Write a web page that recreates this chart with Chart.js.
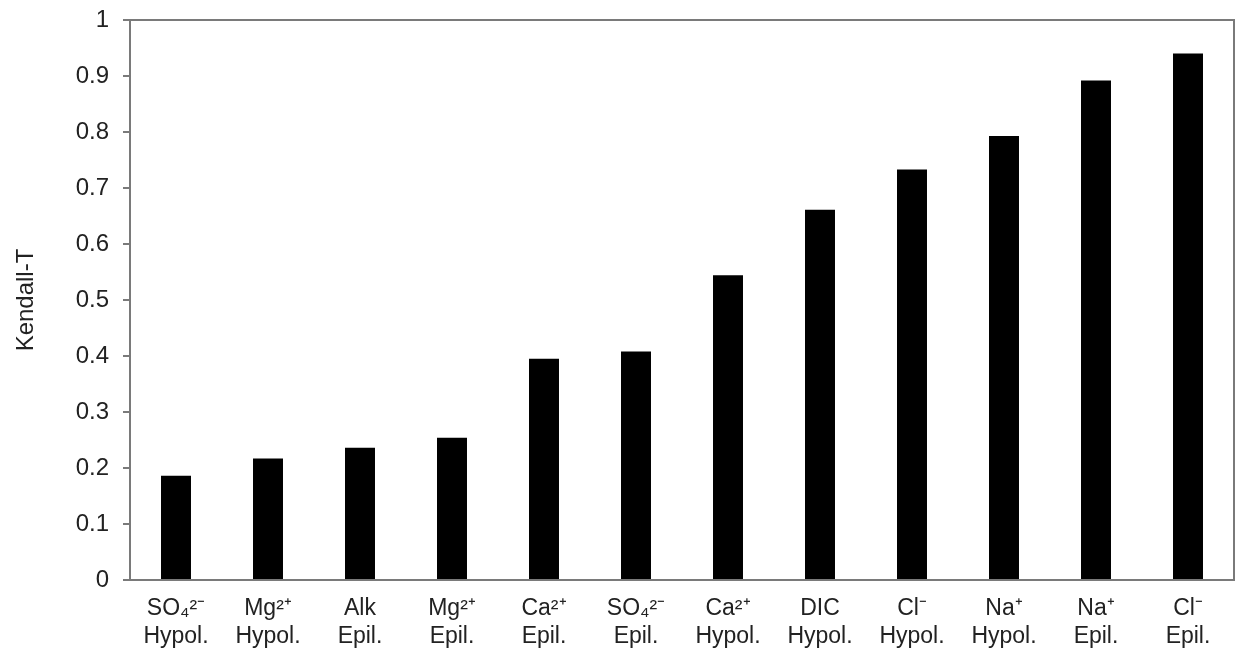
<!DOCTYPE html>
<html>
<head>
<meta charset="utf-8">
<script src="https://cdn.jsdelivr.net/npm/chart.js@4"></script>
<style>
  html, body { margin: 0; padding: 0; background: #fff; }
  #wrap { width: 1237px; height: 659px; }
</style>
</head>
<body>
<div id="wrap"><canvas id="barchart"></canvas></div>
<script>
// categories: ion + layer, two lines each
const ions = ['SO₄²⁻', 'Mg²⁺', 'Alk', 'Mg²⁺', 'Ca²⁺', 'SO₄²⁻', 'Ca²⁺', 'DIC', 'Cl⁻', 'Na⁺', 'Na⁺', 'Cl⁻'];
const layers = ['Hypol.', 'Hypol.', 'Epil.', 'Epil.', 'Epil.', 'Epil.', 'Hypol.', 'Hypol.', 'Hypol.', 'Hypol.', 'Epil.', 'Epil.'];
const kendall = [0.186, 0.217, 0.236, 0.254, 0.395, 0.408, 0.544, 0.661, 0.733, 0.793, 0.892, 0.940];
const yTicks = [0, 0.1, 0.2, 0.3, 0.4, 0.5, 0.6, 0.7, 0.8, 0.9, 1];
const yTickLabels = ['0', '0.1', '0.2', '0.3', '0.4', '0.5', '0.6', '0.7', '0.8', '0.9', '1'];

const labels = ions.map((ion, i) => [ion, layers[i]]);

const axisGray = '#7a7a7a';
const textColor = '#222';
const fontFam = '"Liberation Sans", Arial, sans-serif';

// box round the plot area (top and right sides)
const frame = {
  id: 'frame',
  afterDatasetsDraw(chart) {
    const a = chart.chartArea;
    const c = chart.ctx;
    c.save();
    c.strokeStyle = axisGray;
    c.lineWidth = 2;
    c.beginPath();
    c.moveTo(a.left, a.top);
    c.lineTo(a.right, a.top);
    c.lineTo(a.right, a.bottom);
    c.stroke();
    c.restore();
  }
};

const ctx = document.getElementById('barchart');

new Chart(ctx, {
  type: 'bar',
  data: {
    labels: labels,
    datasets: [{
      label: 'Kendall-T',
      data: kendall,
      backgroundColor: '#000',
      borderWidth: 0,
      barPercentage: 0.326,
      categoryPercentage: 1
    }]
  },
  options: {
    responsive: true,
    maintainAspectRatio: false,
    animation: false,
    layout: { padding: { top: 20, right: 3, left: 0, bottom: 0 } },
    plugins: {
      legend: { display: false },
      tooltip: { enabled: false }
    },
    scales: {
      x: {
        grid: { display: false },
        border: { display: true, color: axisGray, width: 2 },
        ticks: {
          color: textColor,
          font: { family: fontFam, size: 23, lineHeight: 1.25 },
          padding: 6,
          maxRotation: 0,
          autoSkip: false
        },
        afterFit(scale) { scale.height = 79; }
      },
      y: {
        min: 0,
        max: 1,
        afterBuildTicks(scale) { scale.ticks = yTicks.map(v => ({ value: v })); },
        grid: {
          drawOnChartArea: false,
          drawTicks: true,
          tickLength: 7,
          color: axisGray,
          lineWidth: 2
        },
        border: { display: true, color: axisGray, width: 2 },
        ticks: {
          color: textColor,
          font: { family: fontFam, size: 24 },
          padding: 14,
          callback: (v, i) => yTickLabels[i]
        },
        title: {
          display: true,
          text: 'Kendall-T',
          color: textColor,
          font: { family: fontFam, size: 24 },
          padding: { top: 12, bottom: 0 }
        },
        afterFit(scale) {
          scale.width = 130;
          scale.paddingTop = 0;
          scale.paddingBottom = 0;
        }
      }
    }
  },
  plugins: [frame]
});
</script>
</body>
</html>
